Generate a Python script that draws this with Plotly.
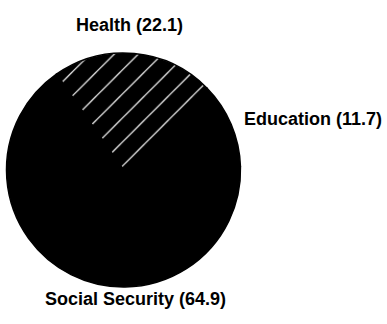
import plotly.graph_objects as go

categories = ["Health", "Education", "Social Security"]
values = [22.1, 11.7, 64.9]

fig = go.Figure()
fig.add_trace(go.Pie(
    labels=categories,
    values=values,
    sort=False,
    direction="clockwise",
    rotation=-35,
    textinfo="none",
    hoverinfo="label+value",
    showlegend=False,
    marker=dict(
        colors=["black", "black", "black"],
        line=dict(color="black", width=1.5),
        pattern=dict(
            shape=["/", "", ""],
            fgcolor="white",
            bgcolor="black",
            size=17,
            solidity=0.07,
        ),
    ),
    domain=dict(x=[6.5/387, 240.5/387], y=[1 - 287/324, 1 - 53/324]),
))

label_pos = {
    "Health": (129, 25),
    "Education": (313, 119),
    "Social Security": (135, 299),
}
for c, v in zip(categories, values):
    x, y = label_pos[c]
    fig.add_annotation(
        x=x/387, y=1 - y/324, xref="paper", yref="paper",
        text=f"<b>{c} ({v})</b>", showarrow=False,
        xanchor="center", yanchor="middle",
        font=dict(family="Liberation Sans", size=18, color="black"),
    )

fig.update_layout(
    width=387, height=324,
    margin=dict(l=0, r=0, t=0, b=0),
    paper_bgcolor="white", plot_bgcolor="white",
)
fig.write_html("out.html")
